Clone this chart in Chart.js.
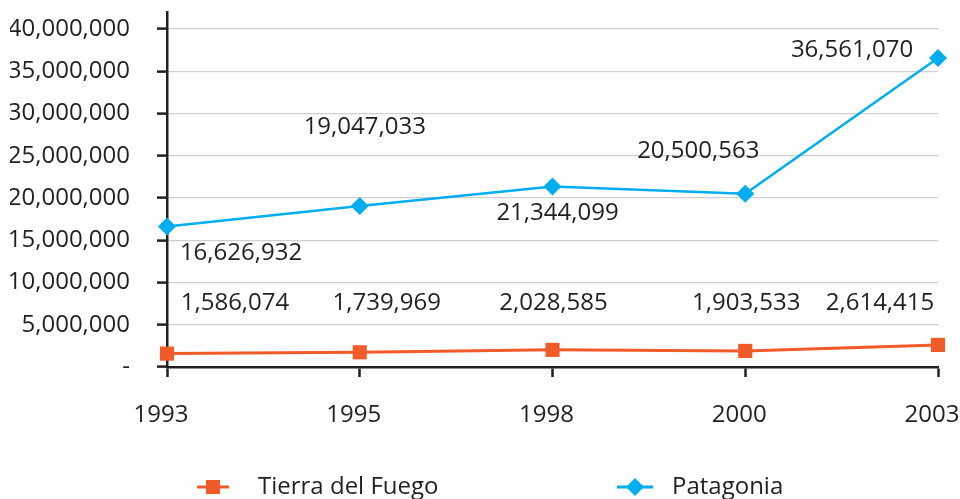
<!DOCTYPE html>
<html>
<head>
<meta charset="utf-8">
<script src="https://cdn.jsdelivr.net/npm/chart.js@4/dist/chart.umd.min.js"></script>
<style>
  html, body { margin: 0; padding: 0; background: #fff; }
  #wrap { width: 960px; height: 499px; position: relative; }
</style>
</head>
<body>
<div id="wrap"><canvas id="c"></canvas></div>
<script>
const years = ['1993', '1995', '1998', '2000', '2003'];
const tierraDelFuego = [1586074, 1739969, 2028585, 1903533, 2614415];
const patagonia = [16626932, 19047033, 21344099, 20500563, 36561070];
const seriesNames = ['Tierra del Fuego', 'Patagonia'];
const yTickValues = [0, 5000000, 10000000, 15000000, 20000000, 25000000, 30000000, 35000000, 40000000];

const ORANGE = '#F15A29';
const BLUE = '#00AEEF';
const TEXT = '#231F20';
const FONT = '"Open Sans", "Noto Sans", sans-serif';
const FS = 24;

// label placement offsets (dx, dy) relative to each point
const labelOffsets = [
  [[68, -50], [27, -49], [1, -47], [1, -48], [-58, -42]],
  [[74, 27], [5, -79], [5, 27], [-47, -43], [-86, -8]]
];

const fmt = v => v.toLocaleString('en-US');

const labelPlugin = {
  id: 'valueLabels',
  afterDatasetsDraw(chart) {
    const ctx = chart.ctx;
    ctx.save();
    ctx.font = FS + 'px ' + FONT;
    ctx.fillStyle = TEXT;
    ctx.textAlign = 'center';
    ctx.textBaseline = 'middle';
    chart.data.datasets.forEach((ds, di) => {
      const meta = chart.getDatasetMeta(di);
      meta.data.forEach((pt, i) => {
        const off = labelOffsets[di][i];
        ctx.fillText(fmt(ds.data[i]), pt.x + off[0], pt.y + off[1]);
      });
    });
    ctx.restore();
  }
};

const legendPlugin = {
  id: 'customLegend',
  afterDraw(chart) {
    const ctx = chart.ctx;
    const y = 487;
    const items = [
      { ds: chart.data.datasets[0], lx: 197, lw: 32, tx: 258 },
      { ds: chart.data.datasets[1], lx: 617, lw: 36, tx: 672 }
    ];
    ctx.save();
    items.forEach(it => {
      ctx.strokeStyle = it.ds.borderColor;
      ctx.lineWidth = 3;
      ctx.beginPath();
      ctx.moveTo(it.lx, y);
      ctx.lineTo(it.lx + it.lw, y);
      ctx.stroke();
      ctx.fillStyle = it.ds.pointBackgroundColor;
      ctx.beginPath();
      const cx = it.lx + it.lw / 2;
      if (it.ds.pointStyle === 'rect') {
        ctx.rect(cx - 7, y - 7, 14, 14);
      } else {
        ctx.moveTo(cx - 9, y); ctx.lineTo(cx, y - 9); ctx.lineTo(cx + 9, y); ctx.lineTo(cx, y + 9); ctx.closePath();
      }
      ctx.fill();
      ctx.font = FS + 'px ' + FONT;
      ctx.fillStyle = TEXT;
      ctx.textAlign = 'left';
      ctx.textBaseline = 'middle';
      ctx.fillText(it.ds.label, it.tx, y);
    });
    ctx.restore();
  }
};

new Chart(document.getElementById('c'), {
  type: 'line',
  data: {
    labels: years,
    datasets: [
      {
        label: seriesNames[0],
        data: tierraDelFuego,
        borderColor: ORANGE,
        backgroundColor: ORANGE,
        pointBackgroundColor: ORANGE,
        pointBorderColor: ORANGE,
        pointStyle: 'rect',
        pointRadius: 10,
        pointBorderWidth: 0,
        borderWidth: 3,
        tension: 0
      },
      {
        label: seriesNames[1],
        data: patagonia,
        borderColor: BLUE,
        backgroundColor: BLUE,
        pointBackgroundColor: BLUE,
        pointBorderColor: BLUE,
        pointStyle: 'rectRot',
        pointRadius: 9,
        pointBorderWidth: 0,
        borderWidth: 2.5,
        tension: 0
      }
    ]
  },
  options: {
    responsive: true,
    maintainAspectRatio: false,
    animation: false,
    layout: { padding: { left: 10, top: 12, right: 22, bottom: 69 } },
    plugins: {
      legend: { display: false },
      tooltip: { enabled: false }
    },
    scales: {
      x: {
        offset: false,
        afterFit(scale) { scale.paddingLeft = 0; scale.paddingRight = 0; scale.height = 63; },
        grid: { drawOnChartArea: false, drawTicks: true, tickLength: 10, tickColor: '#231F20', tickWidth: 2.5 },
        border: { color: '#231F20', width: 2.5 },
        ticks: { color: TEXT, font: { family: FONT, size: FS }, padding: 24, maxRotation: 0, labelOffset: -6 }
      },
      y: {
        min: 0,
        max: 42000000,
        afterBuildTicks(scale) {
          scale.ticks = yTickValues.map(v => ({ value: v }));
        },
        afterFit(scale) { scale.paddingTop = 0; scale.paddingBottom = 0; scale.width = 157; },
        grid: { color: '#D0D0D0', lineWidth: 1.2, drawTicks: true, tickLength: 10, tickColor: '#231F20', tickWidth: 2.5 },
        border: { color: '#231F20', width: 2.5 },
        ticks: {
          color: TEXT,
          font: { family: FONT, size: FS },
          padding: 27,
          callback: v => v === 0 ? '-' : fmt(v)
        }
      }
    }
  },
  plugins: [labelPlugin, legendPlugin]
});
</script>
</body>
</html>
